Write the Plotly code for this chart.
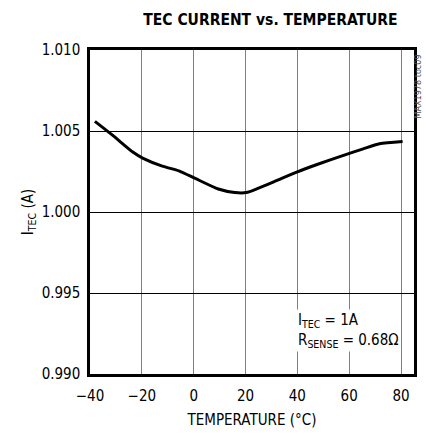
import plotly.graph_objects as go

temperature = [-38.1, -31.1, -23.5, -19.7, -12.1, -5.7, 0.6, 9.5, 15.9, 20.3, 24.8, 32.4, 40.0, 47.6, 57.8, 65.4, 71.7, 80.6]
itec = [1.00559, 1.00471, 1.00370, 1.00333, 1.00283, 1.00254, 1.00207, 1.00142, 1.00120, 1.00120, 1.00146, 1.00197, 1.00248, 1.00293, 1.00350, 1.00390, 1.00421, 1.00435]
x_ticks = [-40, -20, 0, 20, 40, 60, 80]
y_ticks = [0.990, 0.995, 1.000, 1.005, 1.010]
y_labels = ["0.990", "0.995", "1.000", "1.005", "1.010"]

FONT = "DejaVu Sans Condensed, Roboto, sans-serif"

fig = go.Figure()
fig.add_trace(go.Scatter(x=temperature, y=itec, mode="lines",
                         line=dict(color="black", width=3, shape="spline", smoothing=0.6),
                         showlegend=False, hoverinfo="skip"))

fig.update_layout(
    width=426, height=435,
    margin=dict(l=90, r=9, t=50, b=57),
    paper_bgcolor="white", plot_bgcolor="white",
    font=dict(family=FONT, size=15, color="black"),
    title=dict(text="<b>TEC CURRENT vs. TEMPERATURE</b>", xref="paper", x=0.557, xanchor="center",
               y=0.955, yanchor="middle", font=dict(family=FONT, size=15.5, color="black")),
    xaxis=dict(range=[-40, 85], tickvals=x_ticks, showgrid=True, gridcolor="#808080", gridwidth=1.2,
               zeroline=False, showline=True, linecolor="black", linewidth=2.5, mirror=True,
               ticks="", tickfont=dict(size=15), ticklabelstandoff=6,
               title=dict(text="TEMPERATURE (°C)", font=dict(size=15), standoff=11)),
    yaxis=dict(range=[0.990, 1.010], tickvals=y_ticks, ticktext=y_labels, showgrid=True,
               gridcolor="black", gridwidth=1, zeroline=False, showline=True, linecolor="black",
               linewidth=2.5, mirror=True, ticks="", tickfont=dict(size=15), ticklabelstandoff=4,
               title=dict(text="I<sub>TEC</sub> (A)", font=dict(size=15), standoff=5)),
)

fig.add_annotation(text="I<sub>TEC</sub> = 1A<br>R<sub>SENSE</sub> = 0.68Ω", xref="x", yref="y",
                   x=39.5, y=0.9927, xanchor="left", yanchor="middle", align="left",
                   showarrow=False, font=dict(family=FONT, size=15, color="black"),
                   bgcolor="white")
fig.add_annotation(text="MAX1978 toc09", xref="paper", yref="paper", x=1.012, y=0.887,
                   xanchor="center", yanchor="middle", textangle=-90, showarrow=False,
                   font=dict(family=FONT, size=9, color="#555555"))

fig.write_html("out.html", config={"displayModeBar": False},
               post_script="document.body.style.margin='0';document.body.style.overflow='hidden';")
